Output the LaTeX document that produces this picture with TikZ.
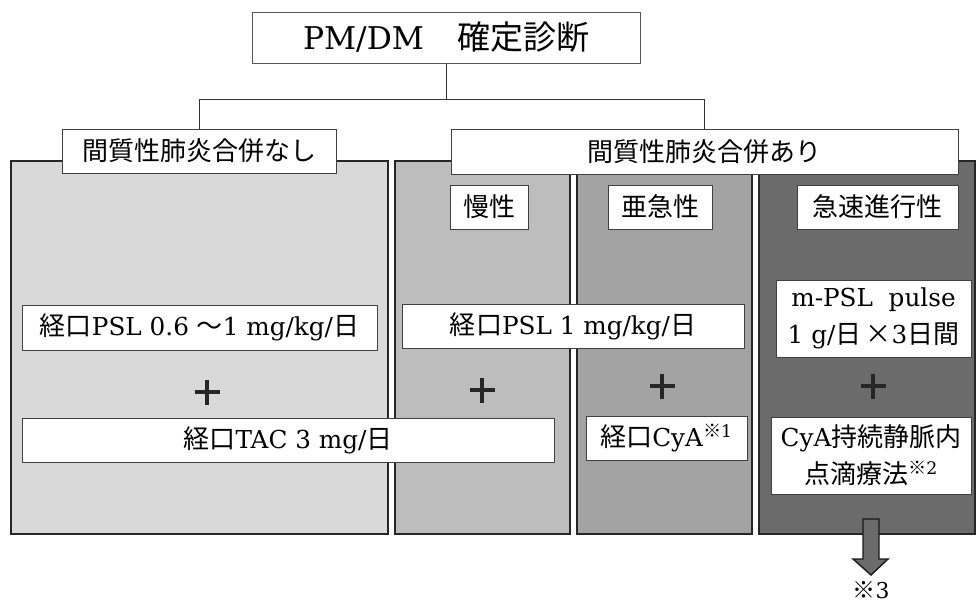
\documentclass[tikz,border=0pt]{standalone}
\usepackage{fontspec}
\setmainfont{DejaVu Serif}[Scale=0.95]
\newfontfamily\jp{Noto Sans CJK JP}
\newcommand\J[1]{{\jp #1}}
\begin{document}
\begin{tikzpicture}[x=1pt,y=-1pt,
  panel/.style={draw=black!85, line width=1.5pt, inner sep=0pt},
  wbox/.style={draw=black!75, line width=0.9pt, fill=white, inner sep=0pt, align=center, font=\fontsize{26}{37}\selectfont},
  conn/.style={draw=black!80, line width=1pt},
  plusline/.style={draw=black!85, line width=3.5pt}
]
\useasboundingbox (0,0) rectangle (976,603);
% panels
\node[panel, fill=black!15, minimum width=377pt, minimum height=373pt] (p1) at (199.5,347.5) {};
\node[panel, fill=black!26, minimum width=175pt, minimum height=373pt] (p2) at (482.5,347.5) {};
\node[panel, fill=black!36, minimum width=175pt, minimum height=373pt] (p3) at (664.5,347.5) {};
\node[panel, fill=black!58, minimum width=216pt, minimum height=373pt] (p4) at (867,347.5) {};
% title and headers
\node[wbox, draw=black!65, minimum width=388pt, minimum height=51pt, font=\fontsize{33}{40}\selectfont] (title) at (446,37.5) {PM/DM\J{　確定診断}};
\node[wbox, minimum width=274pt, minimum height=44pt] (hdrL) at (199,151) {\J{間質性肺炎合併なし}};
\node[wbox, minimum width=507pt, minimum height=45pt] (hdrR) at (704.5,151.5) {\J{間質性肺炎合併あり}};
% connectors
\coordinate (jL) at (199,99);
\draw[conn] (title.south) -- (title.south |- jL);
\draw[conn] (hdrL.north) -- (hdrL.north |- jL) -- (hdrR.north |- jL) -- (hdrR.north);
% sub headers
\node[wbox, minimum width=78pt, minimum height=44pt] (chr) at (489,207) {\J{慢性}};
\node[wbox, minimum width=104pt, minimum height=44pt] (sub) at (660,207) {\J{亜急性}};
\node[wbox, minimum width=161pt, minimum height=44pt] (rap) at (877.5,207) {\J{急速進行性}};
% treatment boxes
\node[wbox, minimum width=355pt, minimum height=45pt] (pslL) at (199.5,327.5) {\J{経口}PSL 0.6 \J{～}1 mg/kg/\J{日}};
\node[wbox, minimum width=342pt, minimum height=44pt] (pslM) at (573,326) {\J{経口}PSL 1 mg/kg/\J{日}};
\node[wbox, minimum width=195pt, minimum height=77pt] (mpsl) at (873.5,318.5) {m-PSL\ \ pulse\\1 g/\J{日}\,\J{×}3\J{日間}};
\node[wbox, minimum width=532pt, minimum height=44pt] (tac) at (288,440) {\J{経口}TAC 3 mg/\J{日}};
\node[wbox, minimum width=161pt, minimum height=44pt] (cya) at (666.5,438) {\J{経口}CyA\textsuperscript{\J{※}1}};
\node[wbox, minimum width=200pt, minimum height=77pt] (cyaiv) at (871,455.5) {CyA\J{持続静脈内}\\\J{点滴療法}\textsuperscript{\J{※}2}};
% plus signs
\foreach \px/\py in {207/392, 482/390, 662/386, 873/386}{
  \draw[plusline] (\px-12.5,\py) -- (\px+12.5,\py);
  \draw[plusline] (\px,\py-12.5) -- (\px,\py+12.5);
}
% arrow
\draw[fill=black!58, draw=black!90, line width=1.4pt, line join=miter]
  (863,519) -- (879,519) -- (879,559) -- (888,559) -- (871,575) -- (853,559) -- (863,559) -- cycle;
\node[font=\fontsize{23}{26}\selectfont, inner sep=0pt] (n3) at (871,590) {\J{※}3};
\end{tikzpicture}
\end{document}
